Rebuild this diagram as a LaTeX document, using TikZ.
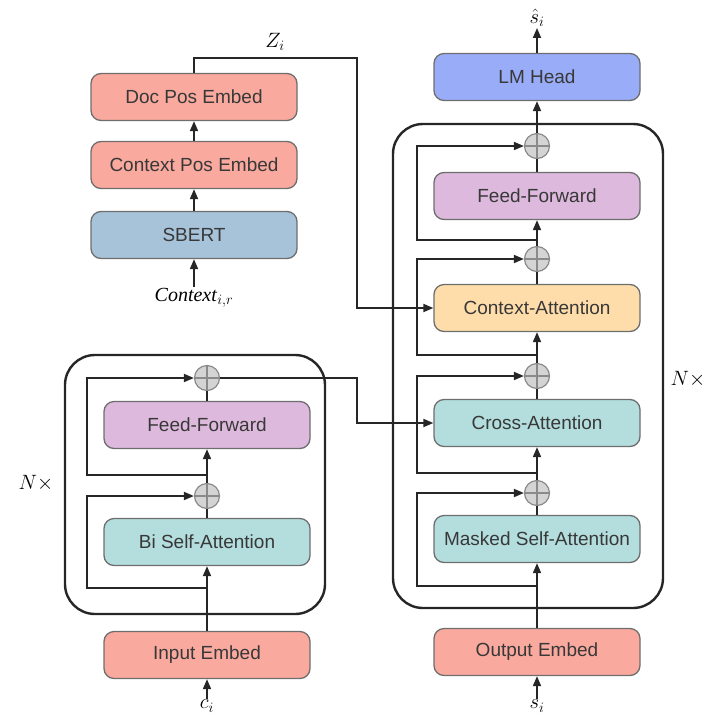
\documentclass[tikz,border=0pt]{standalone}
\usepackage{fontspec}
\setmainfont{Liberation Serif}
\setsansfont{Liberation Sans}
\usepackage{xcolor}
\usetikzlibrary{arrows.meta}
\definecolor{embedred}{HTML}{F9A99E}
\definecolor{sbertblue}{HTML}{A7C3DA}
\definecolor{lmblue}{HTML}{99ACF8}
\definecolor{ffpurple}{HTML}{DDB9DD}
\definecolor{attnteal}{HTML}{B3DEDD}
\definecolor{ctxorange}{HTML}{FFDDAA}
\definecolor{boxgrey}{HTML}{6E6E6E}
\definecolor{textgrey}{HTML}{383838}
\definecolor{addfill}{HTML}{D4D4D4}
\definecolor{addgrey}{HTML}{8A8A8A}

\begin{document}
\begin{tikzpicture}[x=1pt, y=-1pt,
	block/.style	= {draw=boxgrey, line width=1.3pt, rounded corners=10pt, minimum width=206pt, minimum height=47pt, text=textgrey, font=\sffamily\fontsize{19}{22}\selectfont},
	stack/.style	= {draw=black!85, line width=2.4pt, rounded corners=30pt},
	add/.style		= {circle, draw=addgrey, fill=addfill, line width=1.2pt, minimum size=25pt, inner sep=0pt,
					   path picture={\draw[addgrey, line width=1.2pt] (path picture bounding box.north) -- (path picture bounding box.south)
					   (path picture bounding box.west) -- (path picture bounding box.east);}},
	lbl/.style		= {font=\fontsize{20}{24}\selectfont, inner sep=1pt},
	flow/.style		= {-{Triangle[length=10pt, width=8pt]}, line width=1.8pt, draw=black!85},
	wire/.style		= {line width=1.8pt, draw=black!85}]
\useasboundingbox (0,0) rectangle (714,724);

\node[stack, minimum width=270pt, minimum height=484pt]	(decstack)	at (528,366)		{};
\node[stack, minimum width=260pt, minimum height=259pt]	(encstack)	at (195,484.5)	{};

\node[block, fill=embedred]		(docpos)		at (194,97)		{Doc Pos Embed};
\node[block, fill=embedred]		(ctxpos)		at (194,165)		{Context Pos Embed};
\node[block, fill=sbertblue]	(sbert)		at (194,235)		{SBERT};
\node[lbl]						(ctxin)		at (194,298)		{\textit{Context}$_{i,r}$};
\node[lbl]						(zlabel)		at (275,42)		{$Z_i$};

\node[lbl]						(shat)		at (537,18)		{$\hat{s}_i$};
\node[block, fill=lmblue]		(lmhead)		at (537,77)		{LM Head};
\node[add]						(addd)		at (537,146)		{};
\node[block, fill=ffpurple]		(ffr)		at (537,196)		{Feed-Forward};
\node[add]						(addc)		at (537,259)		{};
\node[block, fill=ctxorange]	(ctxatt)		at (537,308)		{Context-Attention};
\node[add]						(addb)		at (537,376)		{};
\node[block, fill=attnteal]		(crossatt)	at (537,423)		{Cross-Attention};
\node[add]						(adda)		at (537,493)		{};
\node[block, fill=attnteal]		(maskatt)	at (537,539)		{Masked Self-Attention};
\node[block, fill=embedred]		(outemb)		at (537,652)		{Output Embed};
\node[lbl]						(sin)		at (537,706)		{$s_i$};
\node[lbl]						(nright)		at (688,379)		{$N\times$};

\node[add]						(encaddb)	at (207,378)		{};
\node[block, fill=ffpurple]		(ffl)		at (207,425)		{Feed-Forward};
\node[add]						(encadda)	at (207,496)		{};
\node[block, fill=attnteal]		(biatt)		at (207,542)		{Bi Self-Attention};
\node[block, fill=embedred]		(inemb)		at (207,655)		{Input Embed};
\node[lbl]						(cin)		at (207,706)		{$c_i$};
\node[lbl]						(nleft)		at (36,483)		{$N\times$};

\coordinate (zturn) at (357,58);
\coordinate (skipa) at (537,586);
\coordinate (skipb) at (537,473);
\coordinate (skipc) at (537,355);
\coordinate (skipd) at (537,240);
\coordinate (encskipa) at (207,588);
\coordinate (encskipb) at (207,475);

\draw[flow]	(ctxin)		-- (sbert);
\draw[flow]	(sbert)		-- (ctxpos);
\draw[flow]	(ctxpos)		-- (docpos);
\draw[flow]	(docpos)		|- (zturn) |- (ctxatt);

\draw[flow]	(sin)		-- (outemb);
\draw[flow]	(outemb)		-- (maskatt);
\draw[wire]	(maskatt)	-- (adda);
\draw[flow]	(adda)		-- (crossatt);
\draw[wire]	(crossatt)	-- (addb);
\draw[flow]	(addb)		-- (ctxatt);
\draw[wire]	(ctxatt)		-- (addc);
\draw[flow]	(addc)		-- (ffr);
\draw[wire]	(ffr)		-- (addd);
\draw[flow]	(addd)		-- (lmhead);
\draw[flow]	(lmhead)		-- (shat);
\draw[flow]	(skipa)		-- ++(-120,0) |- (adda);
\draw[flow]	(skipb)		-- ++(-120,0) |- (addb);
\draw[flow]	(skipc)		-- ++(-120,0) |- (addc);
\draw[flow]	(skipd)		-- ++(-120,0) |- (addd);

\draw[flow]	(cin)		-- (inemb);
\draw[flow]	(inemb)		-- (biatt);
\draw[wire]	(biatt)		-- (encadda);
\draw[flow]	(encadda)	-- (ffl);
\draw[wire]	(ffl)		-- (encaddb);
\draw[flow]	(encskipa)	-- ++(-120,0) |- (encadda);
\draw[flow]	(encskipb)	-- ++(-120,0) |- (encaddb);
\draw[flow]	(encaddb)	-- ++(150,0) |- (crossatt);
\end{tikzpicture}
\end{document}
